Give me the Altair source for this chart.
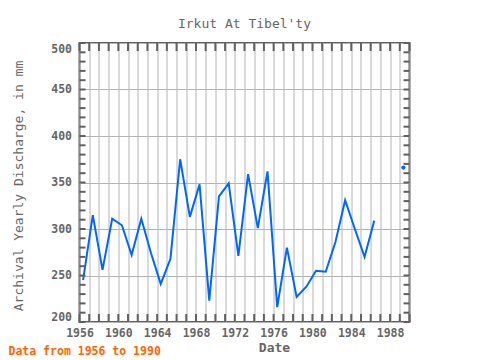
import altair as alt
import pandas as pd

# ---- data ----
years = [1956, 1957, 1958, 1959, 1960, 1961, 1962, 1963, 1964, 1965,
         1966, 1967, 1968, 1969, 1970, 1971, 1972, 1973, 1974, 1975,
         1976, 1977, 1978, 1979, 1980, 1981, 1982, 1983, 1984, 1985,
         1986, 1989]
discharge = [245, 315, 256, 311, 304, 272, 311, 274, 241, 268,
             375, 313, 348, 223, 335, 349, 271, 359, 301, 362,
             216, 280, 227, 238, 255, 254, 286, 331, 300, 270,
             309, 366]
year_ticks = list(range(1956, 1991))
y_labels = [200, 250, 300, 350, 400, 450, 500]
y_minor = list(range(200, 501, 10))
note_text = ["Data from 1956 to 1990"]

W, H = 330, 279
FONT = "DejaVu Sans Mono"
BLUE = "#0066FF"
FRAME = "#606060"
GRID = "#b4b4b4"
TXT = "#666666"

df = pd.DataFrame({"year": years, "value": discharge})
df["t"] = df["year"] + 0.37  # observations sit a little past the year start

xscale = alt.Scale(domain=[1956, 1990], nice=False, zero=False)
yscale = alt.Scale(domain=[200, 500], nice=False, zero=False)

x_axis = alt.Axis(values=year_ticks, grid=True, gridColor=GRID, gridWidth=1,
                  ticks=False, domain=False, format="d",
                  labelExpr="datum.value % 4 == 0 ? datum.label : ''",
                  labelFont=FONT, labelFontSize=11.5, labelColor=TXT,
                  labelFontWeight="bold", labelFlush=False,
                  labelPadding=5, labelOverlap=False,
                  title="Date", titleFont=FONT, titleFontSize=13,
                  titleFontWeight="bold", titleColor=TXT,
                  titleX=194.5, titleY=25.5, titleBaseline="middle")
y_axis = alt.Axis(values=y_labels, grid=True, gridColor=GRID, gridWidth=1,
                  ticks=False, domain=False, labelFlush=True,
                  labelFont=FONT, labelFontSize=11.5, labelColor=TXT,
                  labelFontWeight="bold", labelPadding=8,
                  title="Archival Yearly Discharge, in mm", titleFont=FONT,
                  titleFontSize=13, titleFontWeight="normal", titleColor=TXT,
                  titleX=-61.5, titleY=H / 2 + 3, titleBaseline="middle",
                  titleAlign="center", titleAngle=-90)

base = alt.Chart(df)
line = base.transform_filter("datum.year <= 1986").mark_line(
    color=BLUE, strokeWidth=2).encode(
    x=alt.X("t:Q", scale=xscale, axis=x_axis),
    y=alt.Y("value:Q", scale=yscale, axis=y_axis),
)
pt = base.transform_filter("datum.year > 1988").mark_point(
    color=BLUE, filled=True, size=18, opacity=1).encode(
    x=alt.X("t:Q", scale=xscale, axis=x_axis),
    y=alt.Y("value:Q", scale=yscale, axis=y_axis),
)

ydf = pd.DataFrame({"yr": year_ticks})
vdf = pd.DataFrame({"v": y_minor})
bottom_ticks = alt.Chart(ydf).mark_rule(color=FRAME, strokeWidth=2).encode(
    x=alt.X("yr:Q", scale=xscale, axis=x_axis), y=alt.value(H), y2=alt.value(H - 8))
top_ticks = alt.Chart(ydf).mark_rule(color=FRAME, strokeWidth=2).encode(
    x=alt.X("yr:Q", scale=xscale, axis=x_axis), y=alt.value(0), y2=alt.value(8))
left_ticks = alt.Chart(vdf).mark_rule(color=FRAME, strokeWidth=2).encode(
    y=alt.Y("v:Q", scale=yscale, axis=y_axis), x=alt.value(0), x2=alt.value(6))
right_ticks = alt.Chart(vdf).mark_rule(color=FRAME, strokeWidth=2).encode(
    y=alt.Y("v:Q", scale=yscale, axis=y_axis), x=alt.value(W), x2=alt.value(W - 6))

note = alt.Chart(pd.DataFrame({"note": note_text})).mark_text(
    align="left", baseline="middle", font=FONT, fontSize=11.5,
    fontWeight="bold", color="#ff6600").encode(
    text="note:N", x=alt.value(-71), y=alt.value(309))

chart = alt.layer(line, pt, bottom_ticks, top_ticks, left_ticks, right_ticks, note).properties(
    width=W, height=H,
    title=alt.TitleParams("Irkut At Tibel'ty", font=FONT, fontSize=13,
                          fontWeight="normal", color=TXT, anchor="middle",
                          offset=11),
    autosize=alt.AutoSizeParams(type="none"),
    padding={"left": 71.5, "top": 35, "right": 62, "bottom": 40},
).configure_view(stroke=FRAME, strokeWidth=2)

chart.save("out.html", embed_options={"renderer": "svg", "actions": False})
